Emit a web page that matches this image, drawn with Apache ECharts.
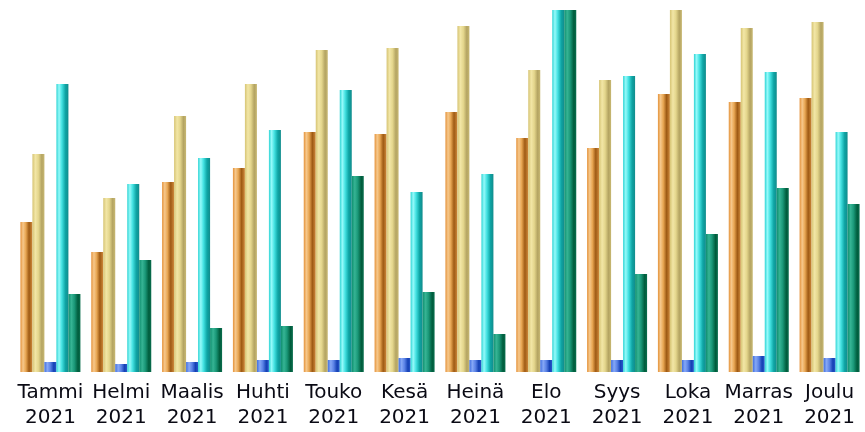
<!DOCTYPE html>
<html>
<head>
<meta charset="utf-8">
<script src="https://cdn.jsdelivr.net/npm/echarts@6/dist/echarts.min.js"></script>
<style>
html,body{margin:0;padding:0;background:#fff;}
#c{width:865px;height:432px;}
</style>
</head>
<body>
<div id="c"></div>
<script>
const categories = ["Tammi\n2021","Helmi\n2021","Maalis\n2021","Huhti\n2021","Touko\n2021","Kesä\n2021","Heinä\n2021","Elo\n2021","Syys\n2021","Loka\n2021","Marras\n2021","Joulu\n2021"];
const seriesOrange = [150,120,190,204,240,238,260,234,224,278,270,274];
const seriesYellow = [218,174,256,288,322,324,346,302,292,362,344,350];
const seriesBlue   = [10,8,10,12,12,14,12,12,12,12,16,14];
const seriesCyan   = [288,188,214,242,282,180,198,362,296,318,300,240];
const seriesGreen  = [78,112,44,46,196,80,38,362,98,138,184,168];

function grad(stops){
  return new echarts.graphic.LinearGradient(0,0,1,0, stops.map(s=>({offset:s[0],color:s[1]})));
}
const styles = [
  grad([[0,'#e4923a'],[0.22,'#f6c88c'],[0.45,'#e8a652'],[0.72,'#9e5a14'],[1,'#cf8a3c']]),
  grad([[0,'#d6c474'],[0.25,'#f2e6a6'],[0.5,'#e4d68c'],[0.78,'#b4a462'],[1,'#c8b872']]),
  grad([[0,'#3f6ee0'],[0.25,'#86a8f6'],[0.5,'#5a82e6'],[0.78,'#1440b4'],[1,'#2a58cc']]),
  grad([[0,'#2ed4d4'],[0.22,'#96fafa'],[0.45,'#44e2e2'],[0.75,'#0ea4a4'],[1,'#128c8c']]),
  grad([[0,'#0e8e6e'],[0.25,'#36b494'],[0.5,'#1a9878'],[0.8,'#005c3c'],[1,'#0a6e4e']])
];
const data = [seriesOrange, seriesYellow, seriesBlue, seriesCyan, seriesGreen];

const chart = echarts.init(document.getElementById('c'), null, {renderer:'canvas'});
chart.setOption({
  animation:false,
  backgroundColor:'#ffffff',
  grid:{left:15,right:-2,top:10,bottom:60,containLabel:false},
  xAxis:{
    type:'category',
    data:categories,
    axisLine:{show:false},
    axisTick:{show:false},
    axisLabel:{
      interval:0,
      margin:8,
      color:'#0a0a14',
      fontFamily:'DejaVu Sans',
      fontSize:20,
      lineHeight:25
    }
  },
  yAxis:{
    type:'value',
    min:0,
    max:362,
    show:false,
    splitLine:{show:false}
  },
  series: data.map((d,i)=>({
    type:'bar',
    data:d,
    barWidth:12,
    barGap:'0%',
    itemStyle:{color:styles[i]}
  }))
});
</script>
</body>
</html>
